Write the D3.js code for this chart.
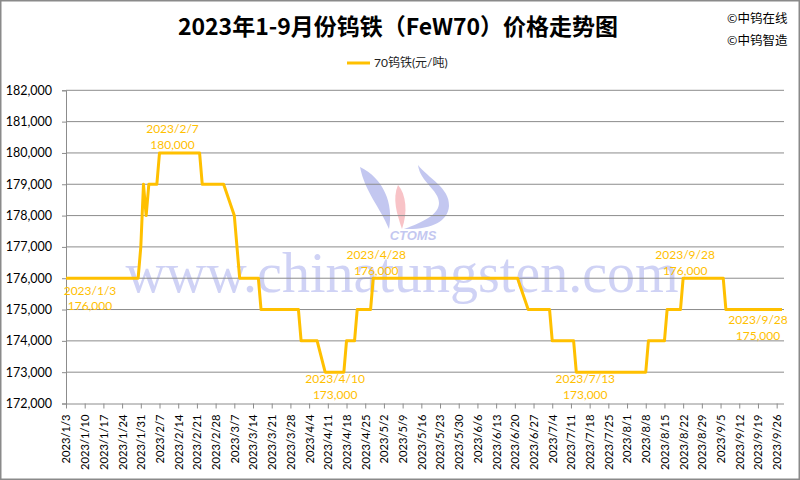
<!DOCTYPE html>
<html><head><meta charset="utf-8">
<script src="https://cdn.jsdelivr.net/npm/d3@7/dist/d3.min.js"></script>
<style>
html,body{margin:0;padding:0;background:#fff;}
svg{display:block;}
</style></head>
<body>
<svg id="chart" width="800" height="480"></svg>
<script>
// ---------- data ----------
const title = "2023年1-9月份钨铁（FeW70）价格走势图";
const seriesName = "70钨铁(元/吨)";
const credits = ["©中钨在线", "©中钨智造"];

const dates = ["2023-01-03","2023-01-30","2023-01-31","2023-02-01","2023-02-02","2023-02-03","2023-02-06","2023-02-07",
"2023-02-22","2023-02-23","2023-03-03","2023-03-07","2023-03-09","2023-03-16","2023-03-17","2023-03-31","2023-04-01",
"2023-04-07","2023-04-10","2023-04-17","2023-04-18","2023-04-21","2023-04-22","2023-04-27","2023-04-28","2023-06-21",
"2023-06-25","2023-07-03","2023-07-04","2023-07-12","2023-07-13","2023-08-08","2023-08-09","2023-08-15","2023-08-16",
"2023-08-21","2023-08-22","2023-09-06","2023-09-07","2023-09-28"];
const values = [176000,176000,177000,179000,178000,179000,179000,180000,
180000,179000,179000,178000,176000,176000,175000,175000,174000,
174000,173000,173000,174000,174000,175000,175000,176000,176000,
175000,175000,174000,174000,173000,173000,174000,174000,175000,
175000,176000,176000,175000,175000];

const yTicks = [172000,173000,174000,175000,176000,177000,178000,179000,180000,181000,182000];
const xTickLabels = ["2023/1/3","2023/1/10","2023/1/17","2023/1/24","2023/1/31","2023/2/7","2023/2/14","2023/2/21",
"2023/2/28","2023/3/7","2023/3/14","2023/3/21","2023/3/28","2023/4/4","2023/4/11","2023/4/18","2023/4/25","2023/5/2",
"2023/5/9","2023/5/16","2023/5/23","2023/5/30","2023/6/6","2023/6/13","2023/6/20","2023/6/27","2023/7/4","2023/7/11",
"2023/7/18","2023/7/25","2023/8/1","2023/8/8","2023/8/15","2023/8/22","2023/8/29","2023/9/5","2023/9/12","2023/9/19","2023/9/26"];

// annotations: anchor date, value, label text
const annDates  = ["2023-01-03","2023-02-07","2023-04-10","2023-04-28","2023-07-13","2023-08-22","2023-09-28"];
const annValues = [176000,180000,173000,176000,173000,176000,175000];
const annTexts  = ["2023/1/3","2023/2/7","2023/4/10","2023/4/28","2023/7/13","2023/9/28","2023/9/28"];

// ---------- drawing ----------
const parse = d3.timeParse("%Y-%m-%d");
const parseLbl = d3.timeParse("%Y/%m/%d");
const fmtNum = d3.format(",");
const svg = d3.select("#chart");
const W = 800, H = 480;
const L = 66, R = 782, T = 90.3, B = 403.5;
const gold = "#FFC000";
const font = "Lato, 'Noto Sans', sans-serif";

svg.append("rect").attr("x",0.75).attr("y",0.75).attr("width",W-1.5).attr("height",H-1.5)
  .attr("fill","#fff").attr("stroke","#8a8a8a").attr("stroke-width",1.5);

const x = d3.scaleTime().domain([parse("2023-01-03"), parse("2023-09-28")]).range([L, R]);
const y = d3.scaleLinear().domain([172000, 182000]).range([B, T]);

// watermark text
svg.append("text").attr("x",402).attr("y",292).attr("text-anchor","middle")
  .attr("font-family","'Liberation Serif', 'DejaVu Serif', serif").attr("font-size",56)
  .attr("fill","#8d93e6").attr("fill-opacity",0.42).text("www.chinatungsten.com");

// watermark logo
const logo = svg.append("g").attr("opacity",0.45);
logo.append("path").attr("d","M360,167 C383,178 394,203 389,229 C380,207 365,192 360,167 Z").attr("fill","#7b84e0");
logo.append("path").attr("d","M398,185 C406,194 408,212 402,229 C397,214 392,199 398,185 Z").attr("fill","#f07b84");
logo.append("path").attr("d","M418,165 C428,178 450,188 449,206 C448,222 430,230 404,229 C424,222 439,214 439,203 C439,190 420,182 418,165 Z").attr("fill","#7b84e0");
logo.append("text").attr("x",413).attr("y",240).attr("text-anchor","middle")
  .attr("font-family","'Liberation Sans', Arial, sans-serif").attr("font-weight","bold").attr("font-style","italic")
  .attr("font-size",13).attr("fill","#7b84e0").text("CTOMS");

// gridlines
svg.append("g").selectAll("line").data(yTicks.filter(v=>v>172000)).join("line")
  .attr("x1",L).attr("x2",R+2).attr("y1",d=>y(d)).attr("y2",d=>y(d))
  .attr("stroke","#8c8c8c").attr("stroke-width",1);

// y axis
const yAxis = svg.append("g").attr("transform",`translate(${L},0)`)
  .call(d3.axisLeft(y).tickValues(yTicks).tickFormat(fmtNum).tickSize(4).tickPadding(10));
yAxis.select(".domain").attr("stroke","#8c8c8c");
yAxis.selectAll(".tick line").attr("stroke","#8c8c8c");
yAxis.selectAll("text").attr("font-family",font).attr("font-size",12.5).attr("fill","#000");

// x axis
const xAxis = svg.append("g").attr("transform",`translate(0,${B})`)
  .call(d3.axisBottom(x).tickValues(xTickLabels.map(parseLbl)).tickFormat(d3.timeFormat("%Y/%-m/%-d")).tickSize(5).tickSizeOuter(0));
xAxis.select(".domain").attr("stroke","#8c8c8c").attr("d",`M${L},0.5H${R+2}`);
xAxis.selectAll(".tick line").attr("stroke","#8c8c8c");
xAxis.selectAll("text").attr("font-family",font).attr("font-size",11.2).attr("fill","#000")
  .attr("text-anchor","end").attr("dy","0.35em").attr("transform","translate(0,11) rotate(-90)").attr("x",0).attr("y",0);

// line
const pts = dates.map((d,i)=>({d:parse(d), v:values[i]}));
svg.append("path").datum(pts)
  .attr("d", d3.line().x(p=>x(p.d)).y(p=>y(p.v)))
  .attr("fill","none").attr("stroke",gold).attr("stroke-width",3).attr("stroke-linejoin","round");

// annotations (placement offsets per annotation)
const annOffsets = [[24,12.5],[13,-24],[10,7],[3,-23],[9,7],[2,-23],[-24,10.5]];
const ann = svg.append("g").attr("font-family",font).attr("font-size",12).attr("fill",gold).attr("text-anchor","middle");
annDates.forEach((d,i)=>{
  const px = x(parse(d)) + annOffsets[i][0];
  const py = y(annValues[i]) + annOffsets[i][1];
  ann.append("text").attr("x",px).attr("y",py).attr("dy","0.35em").text(annTexts[i]);
  ann.append("text").attr("x",px).attr("y",py+15.5).attr("dy","0.35em").text(fmtNum(annValues[i]));
});

// title
svg.append("text").attr("x",398).attr("y",35).attr("text-anchor","middle")
  .attr("font-family","'Noto Sans CJK SC', sans-serif").attr("font-weight","bold").attr("font-size",23)
  .attr("fill","#000").text(title);

// credits
credits.forEach((c,i)=>{
  svg.append("text").attr("x",727).attr("y",23+i*22).attr("font-family","'Noto Sans CJK SC', sans-serif")
    .attr("font-size",12.5).attr("fill","#000").text(c);
});

// legend
svg.append("line").attr("x1",347).attr("x2",370).attr("y1",63).attr("y2",63).attr("stroke",gold).attr("stroke-width",3);
svg.append("text").attr("x",374).attr("y",63).attr("dy","0.35em").attr("font-family","Lato, 'Noto Sans CJK SC', sans-serif")
  .attr("font-size",12).attr("fill","#222").text(seriesName);
</script>
</body></html>
